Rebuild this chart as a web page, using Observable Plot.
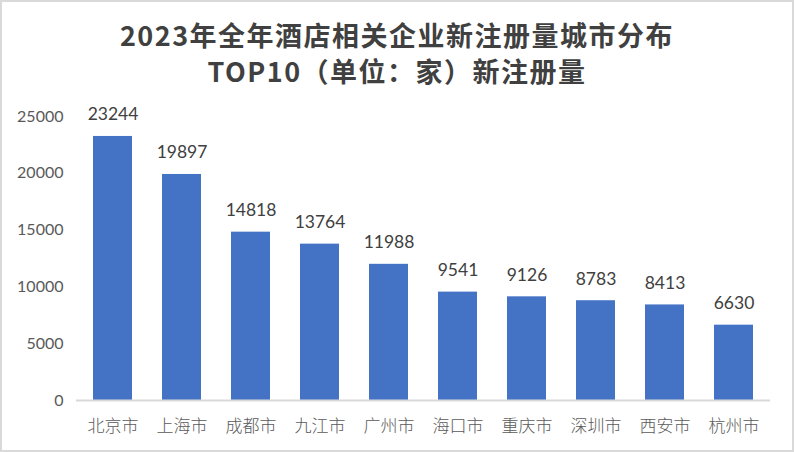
<!DOCTYPE html>
<html>
<head>
<meta charset="utf-8">
<script src="https://cdn.jsdelivr.net/npm/d3@7"></script>
<script src="https://cdn.jsdelivr.net/npm/@observablehq/plot@0.6"></script>
<style>
  html, body { margin: 0; padding: 0; background: #fff; }
  #wrap { position: relative; width: 794px; height: 452px; overflow: hidden; background: #fff; }
  #frame { position: absolute; left: 0; top: 0; width: 794px; height: 452px; box-sizing: border-box; border: 2px solid #d9d9d9; pointer-events: none; }
  #title { height: 95px; box-sizing: border-box; padding-top: 17px; text-align: center; font-family: "Noto Sans CJK SC", sans-serif; font-weight: bold; font-size: 27px; line-height: 36px; letter-spacing: 1.5px; color: #404040; }
  #chart svg { display: block; }
</style>
</head>
<body>
<div id="wrap">
  <div id="title">2023年全年酒店相关企业新注册量城市分布<br>TOP10（单位：家）新注册量</div>
  <div id="chart"></div>
  <div id="frame"></div>
</div>
<script>
const cities = ["北京市", "上海市", "成都市", "九江市", "广州市", "海口市", "重庆市", "深圳市", "西安市", "杭州市"];
const values = [23244, 19897, 14818, 13764, 11988, 9541, 9126, 8783, 8413, 6630];
const yTicks = [0, 5000, 10000, 15000, 20000, 25000];

const data = cities.map((c, i) => ({city: c, value: values[i]}));

const chart = Plot.plot({
  width: 794,
  height: 357,
  marginTop: 21,
  marginBottom: 52,
  marginLeft: 76,
  marginRight: 24,
  style: {fontFamily: "Lato, 'Noto Sans CJK SC', sans-serif", background: "transparent"},
  x: {domain: cities, paddingInner: 0.44, paddingOuter: 0.22, label: null},
  y: {domain: [0, 25000], label: null},
  marks: [
    Plot.axisY({ticks: yTicks, tickFormat: d => String(d), tickSize: 0, tickPadding: 13, fontSize: 16, fill: "#595959", label: null, fontFamily: "Lato, sans-serif"}),
    Plot.axisX({tickSize: 0, tickPadding: 19, fontSize: 17, fill: "#595959", label: null, fontFamily: "'Noto Sans CJK SC', sans-serif", fontWeight: 300}),
    Plot.barY(data, {x: "city", y: "value", fill: "#4472C4"}),
    Plot.ruleY([0], {stroke: "#d9d9d9", strokeWidth: 2}),
    Plot.text(data, {x: "city", y: "value", text: d => String(d.value), dy: -16, lineAnchor: "bottom", fontSize: 17.5, fill: "#404040", fontFamily: "Lato, sans-serif"})
  ]
});
document.getElementById("chart").appendChild(chart);
</script>
</body>
</html>
